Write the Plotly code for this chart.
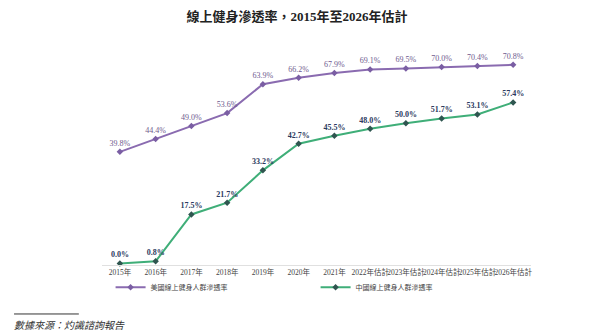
import plotly.graph_objects as go

categories = ["2015年", "2016年", "2017年", "2018年", "2019年", "2020年", "2021年",
              "2022年估計", "2023年估計", "2024年估計", "2025年估計", "2026年估計"]
us_values = [39.8, 44.4, 49.0, 53.6, 63.9, 66.2, 67.9, 69.1, 69.5, 70.0, 70.4, 70.8]
cn_values = [0.0, 0.8, 17.5, 21.7, 33.2, 42.7, 45.5, 48.0, 50.0, 51.7, 53.1, 57.4]
us_name = "美國線上健身人群滲透率"
cn_name = "中國線上健身人群滲透率"
title = "線上健身滲透率，2015年至2026年估計"
source = "數據來源：灼識諮詢報告"

SERIF = "Liberation Serif, Noto Sans CJK TC, serif"

fig = go.Figure()
fig.add_trace(go.Scatter(
    x=categories, y=us_values, name=us_name, mode="lines+markers+text",
    line=dict(color="#8a6bb0", width=2),
    marker=dict(symbol="diamond", size=5, color="#7a5ea3"),
    text=[f"{v:.1f}%" for v in us_values], textposition="top center",
    textfont=dict(family=SERIF, size=8, color="#6e5a8e"),
    cliponaxis=False,
))
fig.add_trace(go.Scatter(
    x=categories, y=cn_values, name=cn_name, mode="lines+markers+text",
    line=dict(color="#3fae78", width=2),
    marker=dict(symbol="diamond", size=5, color="#2f5650"),
    text=[f"<b>{v:.1f}%</b>" for v in cn_values], textposition="top center",
    textfont=dict(family=SERIF, size=8, color="#2b3a5e"),
    cliponaxis=False,
))

fig.update_layout(
    width=594, height=333,
    margin=dict(l=102, r=63, t=53, b=68),
    paper_bgcolor="white", plot_bgcolor="white",
    title=dict(text=f"<b>{title}</b>", x=0.5, xanchor="center", y=0.95, yanchor="middle",
               font=dict(family=SERIF, size=13, color="#222")),
    showlegend=True,
    legend=dict(orientation="h", x=0.02, xanchor="left", y=-0.105, yanchor="middle",
                bgcolor="rgba(0,0,0,0)",
                font=dict(family=SERIF, size=7, color="#444"),
                entrywidth=160, entrywidthmode="pixels", itemwidth=30),
    xaxis=dict(type="category", range=[-0.5, 11.5], showgrid=False,
               showline=True, linecolor="#e0e0e0", linewidth=1,
               ticks="", tickangle=0, tickfont=dict(family=SERIF, size=7.5, color="#444")),
    yaxis=dict(range=[-0.5, 75], visible=False, showgrid=False, zeroline=False),
)

fig.add_shape(type="line", xref="paper", yref="paper",
              x0=-0.205, x1=-0.054, y0=-0.231, y1=-0.231,
              line=dict(color="#333", width=1))
fig.add_annotation(text=f"<i>{source}</i>", xref="paper", yref="paper",
                   x=-0.21, y=-0.285, xanchor="left", yanchor="middle", showarrow=False,
                   font=dict(family=SERIF, size=10, color="#333"))

fig.write_html("out.html")
